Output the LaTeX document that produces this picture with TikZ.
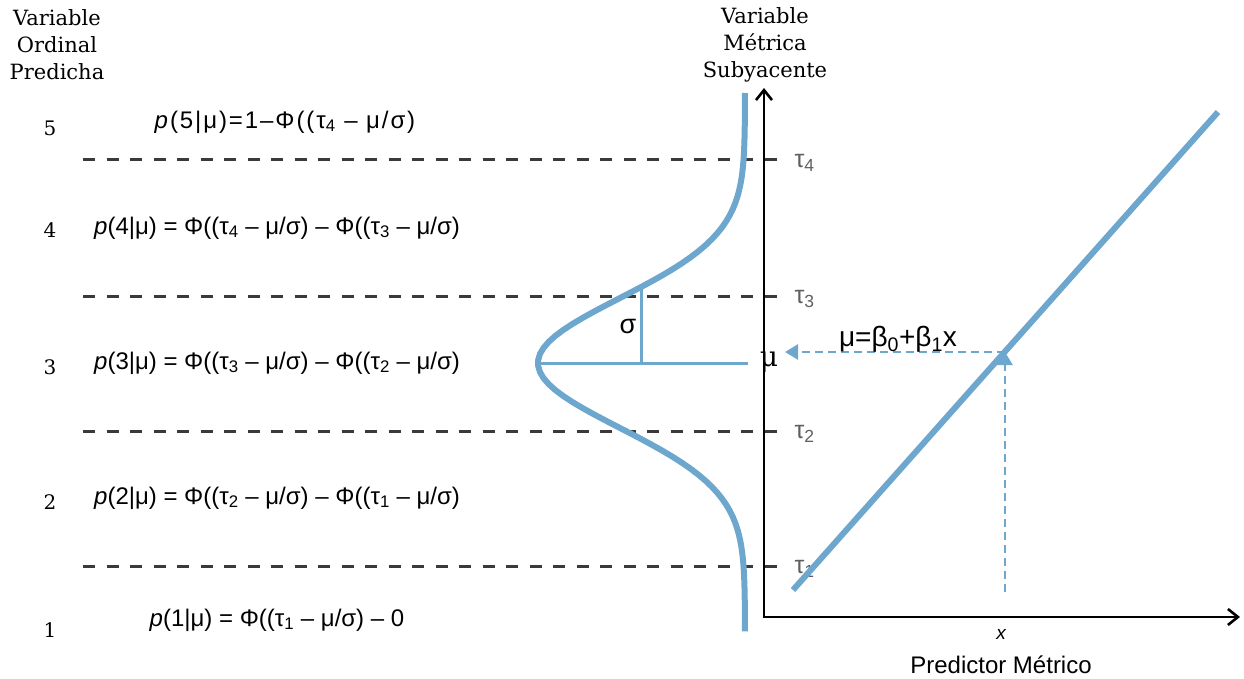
\documentclass[tikz,border=0pt]{standalone}
\usepackage{fontspec}
\newfontfamily\arialf{Liberation Sans}
\newfontfamily\arialw[LetterSpace=8]{Liberation Sans}
\newfontfamily\seriff{DejaVu Serif}
\usetikzlibrary{arrows.meta}
\definecolor{azul}{RGB}{110,167,206}
\definecolor{gris}{RGB}{58,58,58}
\definecolor{grist}{RGB}{95,95,95}

\begin{document}
\begin{tikzpicture}[x=1pt,y=-1pt]
 \tikzstyle{cut} = [line width=3pt, gris, dash pattern=on 12pt off 11.5pt]
 \tikzstyle{tau} = [anchor=west, font=\arialf\fontsize{25}{25}\selectfont, text=grist]
 \tikzstyle{cat} = [font=\seriff\fontsize{20}{20}\selectfont]
 \tikzstyle{prob} = [font=\arialf\fontsize{24}{24}\selectfont]
 \tikzstyle{head} = [align=center, font=\seriff\fontsize{21}{27}\selectfont]
 \tikzstyle{axis} = [line width=2.6pt, -{Straight Barb[length=10pt,width=16pt]}]
 \tikzstyle{curve} = [line width=6pt, azul]
 \tikzstyle{thin} = [line width=3pt, azul]
 \tikzstyle{guide} = [line width=2.4pt, azul, dash pattern=on 8pt off 5pt, -{Triangle[length=13pt,width=15pt]}]
 \useasboundingbox (0,0) rectangle (1244,679);

    % headings
    \node[head] (hl) at (57,45) {Variable\\Ordinal\\Predicha};
    \node[head] (hr) at (765,45) {Variable\\Métrica\\Subyacente};

    % axes
    \coordinate (o) at (764,618);
    \coordinate (ytop) at (764,88);
    \coordinate (xend) at (1240,617);
    \draw[axis] (o) -- (ytop); \draw[axis] (763,617) -- (xend);

    % thresholds
    \foreach \i/\y in {1/566,2/431,3/296,4/160} {
        \coordinate (c\i) at (83,\y);
        \coordinate (d\i) at (783,\y);
        \node[tau] (t\i) at (791,\y+3) {τ\textsubscript{\i}};
        \draw[cut] (c\i) -- (d\i);
    }

    % categories
    \foreach \k/\y in {5/128,4/230,3/367,2/502,1/630}
        \node[cat] (k\k) at (50,\y) {\k};

    % probabilities
    \node[prob, font=\arialw\fontsize{24}{24}\selectfont] (p5) at (285,122) {\textit{p}(5|μ)=1–Φ((τ\textsubscript{4} – μ/σ)};
    \node[prob] (p4) at (277,228) {\textit{p}(4|μ) = Φ((τ\textsubscript{4} – μ/σ) – Φ((τ\textsubscript{3} – μ/σ)};
    \node[prob] (p3) at (277,363) {\textit{p}(3|μ) = Φ((τ\textsubscript{3} – μ/σ) – Φ((τ\textsubscript{2} – μ/σ)};
    \node[prob] (p2) at (277,498) {\textit{p}(2|μ) = Φ((τ\textsubscript{2} – μ/σ) – Φ((τ\textsubscript{1} – μ/σ)};
    \node[prob] (p1) at (277,620) {\textit{p}(1|μ) = Φ((τ\textsubscript{1} – μ/σ) – 0};

    % latent distribution
    \draw[curve] (745,93) -- plot[variable=\t, domain=-4.15:4.15, samples=90]
        ({745-207*exp(-0.5*\t*\t)}, {363+64.7*\t});
    \coordinate (pk) at (540,363);
    \coordinate (me) at (748,363);
    \coordinate (sb) at (641,363);
    \coordinate (st) at (641,287);
    \draw[thin] (pk) -- (me);
    \draw[thin] (sb) -- (st);
    \node[font=\arialf\fontsize{27}{27}\selectfont] (sg) at (628,326) {σ};
    \node[font=\seriff\fontsize{28}{28}\selectfont] (mu) at (769,362) {μ};

    % regression
    \coordinate (r0) at (793,590);
    \coordinate (r1) at (1218,112);
    \draw[curve] (r0) -- (r1);
    \coordinate (px) at (1005,592);
    \coordinate (pt) at (1005,352);
    \coordinate (pm) at (785,352);
    \draw[guide] (px) -- (pt);
    \draw[guide] (pt) -- (pm);
    \node[font=\arialf\fontsize{28}{28}\selectfont] (eq) at (898,339) {μ=β\textsubscript{0}+β\textsubscript{1}x};
    \node[font=\arialf\itshape\fontsize{19}{19}\selectfont] (xl) at (1001,634) {x};
    \node[font=\arialf\fontsize{24}{24}\selectfont] (pr) at (1001,665) {Predictor Métrico};
\end{tikzpicture}
\end{document}
